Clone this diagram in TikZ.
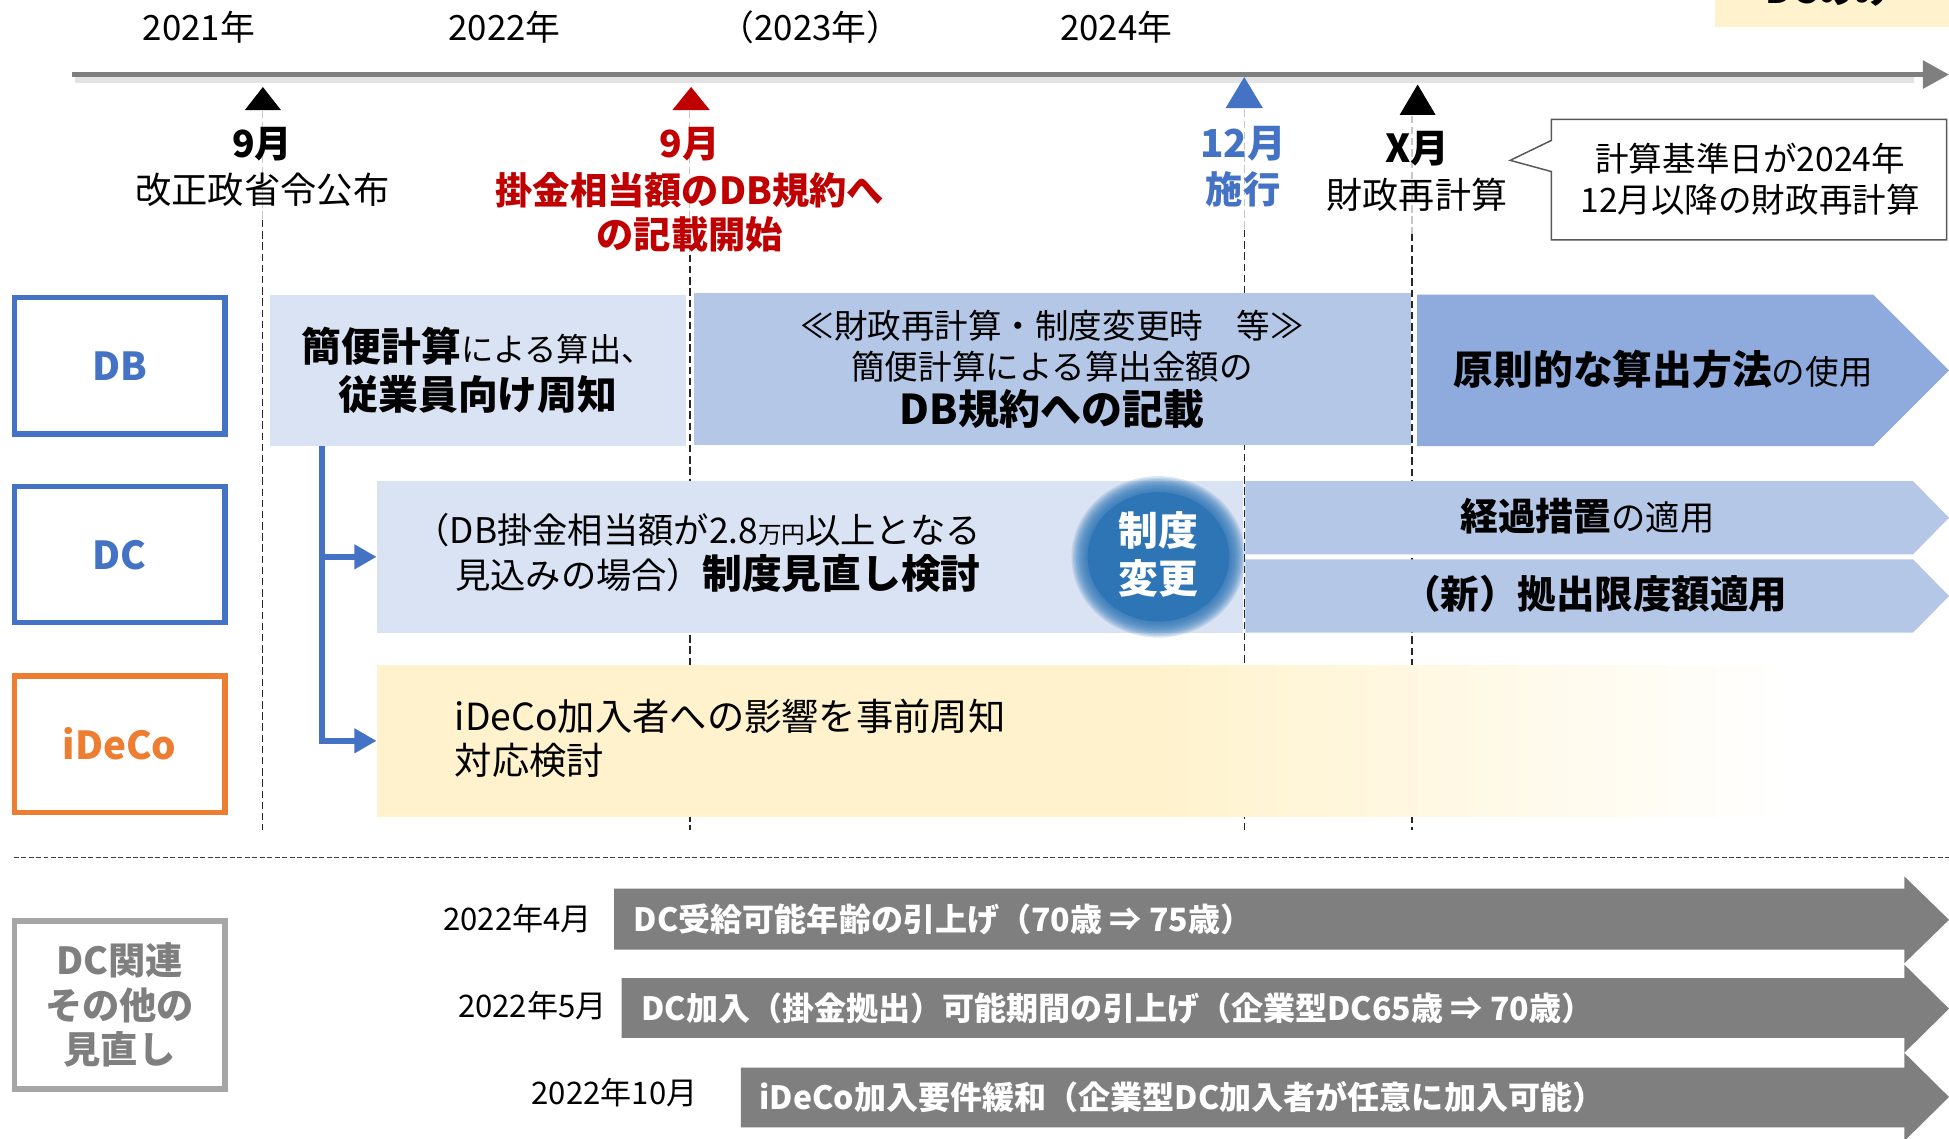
\documentclass[tikz,border=0pt]{standalone}
\usepackage{fontspec}
\setmainfont{Noto Sans CJK JP}
\usetikzlibrary{arrows.meta,calc}

\definecolor{cBlue}{HTML}{4472C4}
\definecolor{cLight}{HTML}{DAE3F3}
\definecolor{cMid}{HTML}{B4C7E7}
\definecolor{cDark}{HTML}{8FAADC}
\definecolor{cCirc}{HTML}{2E75B6}
\definecolor{cOrange}{HTML}{ED7D31}
\definecolor{cYellow}{HTML}{FFF2CC}
\definecolor{cGray}{HTML}{7F7F7F}
\definecolor{cGrayBox}{HTML}{A6A6A6}
\definecolor{cRed}{HTML}{C00000}
\definecolor{cLine}{HTML}{595959}

\newcommand\fsz[2]{\fontsize{#1pt}{#2pt}\selectfont}

\tikzset{
  txt/.style={inner sep=0pt, outer sep=0pt},
  yr/.style={txt, font=\fsz{14}{16}},
  cat/.style={draw, line width=2.2pt, fill=white, minimum width=84.75pt,
    minimum height=54.75pt, inner sep=0pt, align=center, font=\bfseries\fsz{15.5}{18}},
  band/.style={inner sep=0pt, outer sep=0pt, minimum height=61pt, draw=none},
  vgray/.style={draw=gray!45, line width=0.5pt, dash pattern=on 3pt off 1.5pt},
  vdark/.style={draw=black!85, line width=0.55pt, dash pattern=on 3pt off 1.5pt},
  conn/.style={draw=cBlue, line width=2.6pt, -{Triangle[length=9pt,width=9.5pt]}},
  garrow/.style={fill=cGray},
  gtxt/.style={txt, anchor=west, text=white, font=\bfseries\fsz{12.9}{15}},
  dtxt/.style={txt, anchor=east, font=\fsz{12.5}{15}},
}

\begin{document}
\begin{tikzpicture}[x=0.5pt,y=-0.5pt]
\useasboundingbox (0,0) rectangle (1568,916);
\clip (0,0) rectangle (1568,916);
\fill[white] (0,0) rectangle (1568,916);

% top-right partially visible box
\fill[cYellow] (1380,-20) rectangle (1568,22);
\node[txt, font=\bfseries\fsz{15}{18}] (dconly) at (1471,-8) {DCのみ};

% years
\node[yr] (y21) at (160,22) {2021年};
\node[yr] (y22) at (406,22) {2022年};
\node[yr] (y23) at (652,22) {（2023年）};
\node[yr] (y24) at (898,22) {2024年};

% timeline
\coordinate (tl0) at (58,60);
\coordinate (tl1) at (1568,60);
\draw[line width=2.6pt, draw=gray!22] (60,64) -- (1540,64);
\draw[line width=1.9pt, draw=cGray, -{Triangle[length=10.5pt,width=11pt]}] (tl0) -- (tl1);

% vertical dashed guide lines
\draw[vgray] (211,89) -- (211,177);
\draw[vdark] (211,177) -- (211,668);
\draw[vgray] (555,89) -- (555,205);
\draw[vdark] (555,205) -- (555,668);
\draw[vgray] (1001,88) -- (1001,185);
\draw[vdark] (1001,185) -- (1001,668);
\draw[vgray] (1136,93) -- (1136,188);
\draw[vdark] (1136,188) -- (1136,668);

% markers
\fill[black] (197,88.5) -- (211.5,70) -- (226,88.5) -- cycle;
\fill[cRed] (541,88.5) -- (556,70) -- (571,88.5) -- cycle;
\fill[cBlue] (986,87) -- (1001,62) -- (1016,87) -- cycle;
\fill[black] (1126,92.5) -- (1140.5,68) -- (1155,92.5) -- cycle;

\node[txt, font=\bfseries\fsz{15}{18}] (m1a) at (211,116) {9月};
\node[txt, font=\fsz{14.6}{17}] (m1b) at (211,153) {改正政省令公布};
\node[txt, text=cRed, font=\bfseries\fsz{15}{18}] (m2a) at (555,116) {9月};
\node[txt, text=cRed, align=center, font=\bfseries\fsz{15}{17.5}] (m2b) at (555,171) {掛金相当額のDB規約へ\\の記載開始};
\node[txt, text=cBlue, font=\bfseries\fsz{15.5}{18}] (m3a) at (1000,116) {12月};
\node[txt, text=cBlue, font=\bfseries\fsz{15}{18}] (m3b) at (1000,152) {施行};
\node[txt, font=\bfseries\fsz{15.5}{18}] (m4a) at (1140,120) {X月};
\node[txt, font=\fsz{14.5}{17}] (m4b) at (1140,157) {財政再計算};

% callout
\draw[line width=0.6pt, draw=cLine, fill=white] (1248,96) -- (1566,96) -- (1566,193) -- (1248,193) -- (1248,138) -- (1215,129) -- (1248,113) -- cycle;
\node[txt, align=center, font=\fsz{13.5}{16.5}] (cot) at (1408,144) {計算基準日が2024年\\12月以降の財政再計算};

% category boxes
\node[cat, draw=cBlue, text=cBlue] (cdb) at (96.25,294.25) {DB};
\node[cat, draw=cBlue, text=cBlue] (cdc) at (96.25,446.25) {DC};
\node[cat, draw=cOrange, text=cOrange] (cid) at (96.25,598.75) {iDeCo};
\node[cat, draw=cGrayBox, text=cGray, minimum height=67.5pt, font=\bfseries\fsz{15}{18}] (coth) at (96.25,808.5) {DC関連\\その他の\\見直し};

% DB row
\node[band, fill=cLight, minimum width=167.5pt, align=center, font=\bfseries\fsz{16}{19.5}] (db1) at (384.5,298)
  {簡便計算{\mdseries\fsz{13}{19.5}による算出、}\\従業員向け周知};
\node[band, fill=cMid, minimum width=288.5pt, align=center, font=\fsz{13.5}{16.5}] (db2) at (846.5,297)
  {≪財政再計算・制度変更時　等≫\\簡便計算による算出金額の\\[1.5pt]{\bfseries\fsz{16.5}{18}DB規約への記載}};
\fill[cDark] (1140,237) -- (1507,237) -- (1568,298) -- (1507,359) -- (1140,359) -- cycle;
\node[txt] (db3) at (1338,297) {{\bfseries\fsz{16}{19}原則的な算出方法}{\fsz{13.5}{16}の使用}};

% DC row
\node[band, fill=cLight, minimum width=348.5pt] (dcbox) at (651.5,448) {};
\node[txt, anchor=east, align=right, font=\fsz{14.2}{18}] (dct) at (789,445)
  {（DB掛金相当額が2.8{\fsz{9.5}{10}万円}以上となる\\見込みの場合）{\bfseries\fsz{16}{18}制度見直し検討}};
\foreach \i in {0,...,11} {
  \fill[cCirc, opacity=.16] (932,448) ellipse [x radius={70-1.2*\i}, y radius={65-1.2*\i}];
}
\fill[cCirc] (932,448) ellipse [x radius=57, y radius=52];
\node[txt, text=white, align=center, font=\bfseries\fsz{16}{19}] (circ) at (932,446) {制度\\変更};
\fill[cMid] (1002,387) -- (1539,387) -- (1568,416.5) -- (1539,446) -- (1002,446) -- cycle;
\fill[cMid] (1002,450) -- (1539,450) -- (1568,479.5) -- (1539,509) -- (1002,509) -- cycle;
\node[txt] (dca1) at (1277,415) {{\bfseries\fsz{15.2}{18}経過措置}{\fsz{13.8}{16}の適用}};
\node[txt, font=\bfseries\fsz{15.5}{18}] (dca2) at (1283,478) {（新）拠出限度額適用};

% iDeCo row
\fill[cYellow] (303,535) rectangle (922,657);
\shade[left color=cYellow, right color=white] (921,535) rectangle (1440,657);
\node[band, minimum width=632.5pt] (idbox) at (935.5,596) {};
\node[txt, anchor=west, align=left, font=\fsz{15}{18}] (idt) at (366,594) {iDeCo加入者への影響を事前周知\\対応検討};

% connector
\draw[conn] ($(db1.south west)+(42,0)$) |- (dcbox.west);
\draw[conn] ($(db1.south west)+(42,0)$) |- (idbox.west);

% separator
\coordinate (s0) at (11,690);
\coordinate (s1) at (1568,690);
\draw[draw=black!75, line width=0.6pt, dash pattern=on 2pt off 1pt] (s0) -- (s1);

% bottom rows
\fill[garrow] (494,715) -- (1532,715) -- (1532,705) -- (1568,740) -- (1532,775) -- (1532,764) -- (494,764) -- cycle;
\fill[garrow] (500,787) -- (1532,787) -- (1532,776) -- (1568,811.5) -- (1532,847) -- (1532,835) -- (500,835) -- cycle;
\fill[garrow] (596,859) -- (1532,859) -- (1532,847) -- (1568,882.5) -- (1532,918) -- (1532,907) -- (596,907) -- cycle;
\node[dtxt] (d1) at (476,739) {2022年4月};
\node[dtxt] (d2) at (488,809) {2022年5月};
\node[dtxt] (d3) at (561,879) {2022年10月};
\node[gtxt] (g1) at (510,740) {DC受給可能年齢の引上げ（70歳 ⇒ 75歳）};
\node[gtxt] (g2) at (516,811) {DC加入（掛金拠出）可能期間の引上げ（企業型DC65歳 ⇒ 70歳）};
\node[gtxt] (g3) at (611,883) {iDeCo加入要件緩和（企業型DC加入者が任意に加入可能）};
\end{tikzpicture}
\end{document}
